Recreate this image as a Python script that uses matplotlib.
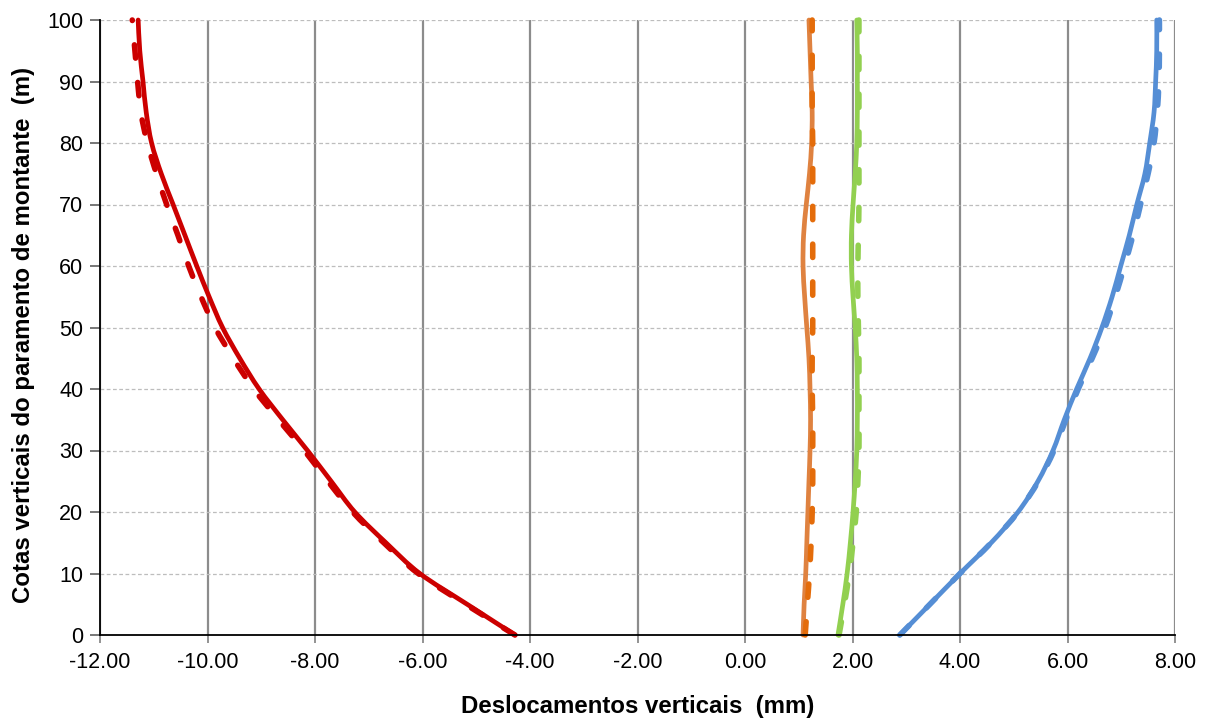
import matplotlib
matplotlib.use("Agg")
import matplotlib.pyplot as plt
from matplotlib.path import Path
from matplotlib.patches import PathPatch
import numpy as np

plt.rcParams['font.family'] = ['Liberation Sans', 'DejaVu Sans']

# Heights (m)
cotas = [0, 5, 10, 15, 20, 25, 30, 35, 40, 45, 50, 55, 60, 65, 70, 75, 80, 85, 90, 95, 100]

# Vertical displacements (mm)
red_solid = [-4.28, -5.17, -6.05, -6.68, -7.26, -7.70, -8.14, -8.60, -9.04, -9.40, -9.72,
             -9.97, -10.20, -10.42, -10.64, -10.86, -11.04, -11.14, -11.20, -11.26, -11.29]
red_dash = [-4.28, -5.20, -6.08, -6.72, -7.30, -7.76, -8.20, -8.68, -9.14, -9.52, -9.86,
            -10.12, -10.35, -10.55, -10.76, -10.95, -11.12, -11.24, -11.30, -11.35, -11.40]
orange_solid = [1.08, 1.10, 1.13, 1.15, 1.17, 1.19, 1.21, 1.22, 1.21, 1.19, 1.15,
                1.11, 1.08, 1.09, 1.14, 1.20, 1.24, 1.25, 1.23, 1.21, 1.19]
orange_dash = [1.12, 1.16, 1.20, 1.23, 1.25, 1.26, 1.26, 1.26, 1.25, 1.25, 1.26,
               1.26, 1.26, 1.26, 1.26, 1.26, 1.26, 1.25, 1.25, 1.25, 1.25]
green_solid = [1.73, 1.82, 1.90, 1.96, 2.01, 2.05, 2.08, 2.09, 2.09, 2.08, 2.05,
               2.01, 1.98, 1.98, 2.01, 2.05, 2.08, 2.09, 2.09, 2.09, 2.08]
green_dash = [1.75, 1.85, 1.94, 2.01, 2.07, 2.10, 2.12, 2.12, 2.12, 2.12, 2.11,
              2.10, 2.10, 2.11, 2.12, 2.12, 2.12, 2.12, 2.12, 2.12, 2.12]
blue_solid = [2.88, 3.44, 4.00, 4.58, 5.08, 5.45, 5.73, 5.94, 6.17, 6.42, 6.64,
              6.83, 6.99, 7.15, 7.29, 7.44, 7.53, 7.61, 7.64, 7.66, 7.66]
blue_dash = [2.88, 3.44, 4.00, 4.58, 5.08, 5.46, 5.75, 5.97, 6.20, 6.46, 6.70,
             6.89, 7.06, 7.22, 7.36, 7.50, 7.61, 7.67, 7.70, 7.71, 7.71]

x_ticks = [-12, -10, -8, -6, -4, -2, 0, 2, 4, 6, 8]
x_ticklabels = ["-12.00", "-10.00", "-8.00", "-6.00", "-4.00", "-2.00",
                "0.00", "2.00", "4.00", "6.00", "8.00"]
y_ticks = [0, 10, 20, 30, 40, 50, 60, 70, 80, 90, 100]


def smooth_path(xs, ys):
    """Excel-style smoothed line: cubic Bezier segments through the data points."""
    p = np.column_stack([xs, ys]).astype(float)
    n = len(p)
    verts = [p[0]]
    codes = [Path.MOVETO]
    for i in range(n - 1):
        p0 = p[i - 1] if i > 0 else p[i]
        p1 = p[i]
        p2 = p[i + 1]
        p3 = p[i + 2] if i + 2 < n else p[i + 1]
        c1 = p1 + (p2 - p0) / 6.0
        c2 = p2 - (p3 - p1) / 6.0
        verts += [c1, c2, p2]
        codes += [Path.CURVE4] * 3
    return Path(verts, codes)


fig = plt.figure(figsize=(12.06, 7.22), dpi=100)
ax = fig.add_axes([100/1206, 1 - 635/722, 1075/1206, 615/722])

# grid
for xv in x_ticks:
    ax.axvline(xv, color='#8c8c8c', lw=1.6, zorder=1)
for yv in y_ticks[1:]:
    ax.axhline(yv, color='#bdbdbd', lw=0.9, ls=(0, (3, 2)), zorder=1)

series = [
    (red_solid, red_dash, '#CC0000', '#CC0000'),
    (orange_solid, orange_dash, '#DF8240', '#E46C0A'),
    (green_solid, green_dash, '#92D050', '#92D050'),
    (blue_solid, blue_dash, '#558ED5', '#558ED5'),
]
for s, d, cs, cd in series:
    ps = PathPatch(smooth_path(s, cotas), fill=False, edgecolor=cs, lw=3.4,
                   capstyle='round', joinstyle='round', zorder=3, clip_on=False)
    ax.add_patch(ps)
    pd_ = PathPatch(smooth_path(d, cotas), fill=False, edgecolor=cd, lw=4.0,
                    linestyle=(0, (2.4, 4.4)), capstyle='round', joinstyle='round',
                    zorder=4, clip_on=False)
    ax.add_patch(pd_)

ax.set_xlim(-12, 8)
ax.set_ylim(0, 100)
ax.set_xticks(x_ticks)
ax.set_xticklabels(x_ticklabels)
ax.set_yticks(y_ticks)

for side in ['top', 'right']:
    ax.spines[side].set_visible(False)
for side in ['left', 'bottom']:
    ax.spines[side].set_color('black')
    ax.spines[side].set_linewidth(1.3)
    ax.spines[side].set_zorder(5)

ax.tick_params(axis='x', direction='out', length=6, width=1.2, color='#808080',
               labelsize=15.5, pad=6, labelcolor='black')
ax.tick_params(axis='y', direction='out', length=7, width=1.2, color='#606060',
               labelsize=15.5, pad=5, labelcolor='black')

ax.set_xlabel("Deslocamentos verticais  (mm)", fontsize=17.3, fontweight='bold')
ax.set_ylabel("Cotas verticais do paramento de montante  (m)", fontsize=17.3,
              fontweight='bold')
ax.xaxis.label.set_va('center')
ax.yaxis.label.set_va('center')
ax.xaxis.set_label_coords(0.5, (635 - 707) / 615)
ax.yaxis.set_label_coords((24 - 100) / 1075, (635 - 335) / 615)

fig.savefig("out.png", dpi=100)
